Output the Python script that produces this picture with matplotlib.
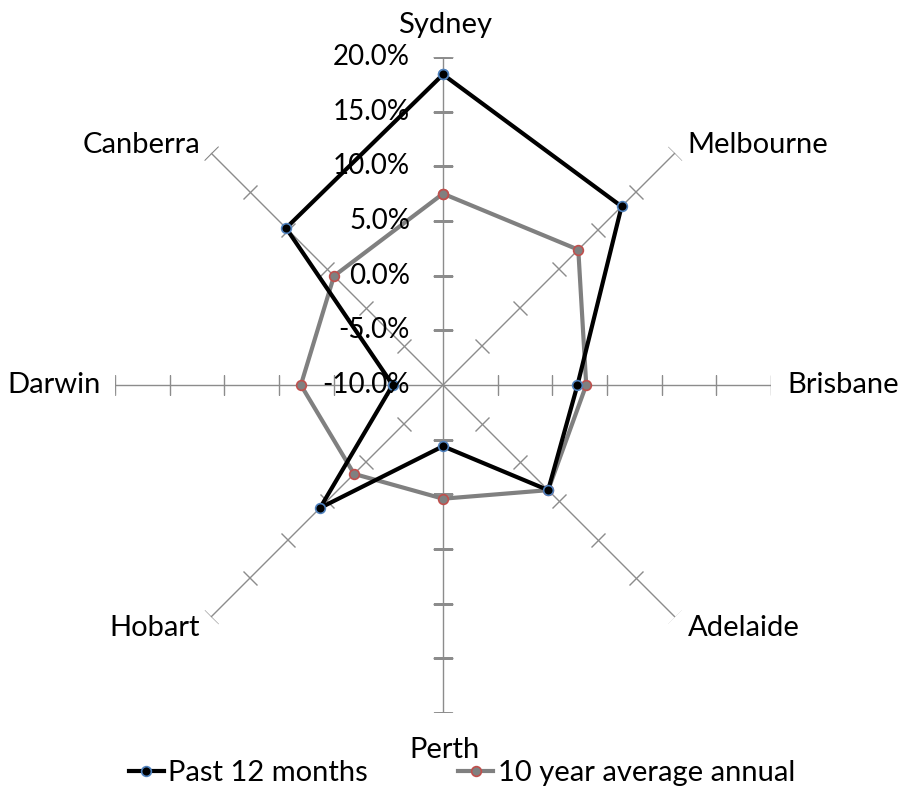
import numpy as np
import matplotlib
matplotlib.use("Agg")
import matplotlib.pyplot as plt
from matplotlib.markers import MarkerStyle
from matplotlib.transforms import Affine2D

plt.rcParams["font.family"] = ["Lato", "DejaVu Sans"]

cities = ["Sydney", "Melbourne", "Brisbane", "Adelaide", "Perth", "Hobart", "Darwin", "Canberra"]
past_12_months = [18.4, 13.1, 2.3, 3.6, -4.4, 5.9, -5.4, 10.3]
ten_year_avg = [7.5, 7.5, 3.1, 3.6, 0.4, 1.5, 3.0, 4.1]
r_ticks = [-10, -5, 0, 5, 10, 15, 20]
r_tick_labels = ["-10.0%", "-5.0%", "0.0%", "5.0%", "10.0%", "15.0%", "20.0%"]

W, H = 898, 788
fig = plt.figure(figsize=(W / 100, H / 100), dpi=100)
cx, cy, R = 443, 385, 328
ax = fig.add_axes([(cx - R) / W, (H - cy - R) / H, 2 * R / W, 2 * R / H], projection="polar")
ax.set_theta_zero_location("N")
ax.set_theta_direction(-1)
ax.set_ylim(-10, 20)
ax.grid(False)
ax.spines["polar"].set_visible(False)
ax.set_xticks([])
ax.set_yticks([])

n = len(cities)
angles = np.arange(n) * 2 * np.pi / n
axis_col = "#8c8c8c"

# spokes with cross tick marks
for a in angles:
    ax.plot([a, a], [-10, 20], color=axis_col, lw=1.0, zorder=1)
    m = MarkerStyle("_", transform=Affine2D().rotate_deg(-np.degrees(a)))
    ax.plot([a] * (len(r_ticks) - 1), r_ticks[1:], ls="none", marker=m,
            ms=14, mew=1.0, mec=axis_col, zorder=1)

ang_closed = np.append(angles, angles[0])
ax.plot(ang_closed, past_12_months + past_12_months[:1], color="black", lw=3,
        marker="o", ms=7, mfc="black", mec="#4f81bd", mew=1.2, zorder=3,
        label="Past 12 months")
ax.plot(ang_closed, ten_year_avg + ten_year_avg[:1], color="#808080", lw=3,
        marker="o", ms=7, mfc="#808080", mec="#c0504d", mew=1.2, zorder=2,
        label="10 year average annual")

# radial value labels along the Sydney spoke
for v, lab in zip(r_ticks, r_tick_labels):
    ax.annotate(lab, xy=(0, v), xytext=(-33, 0), textcoords="offset pixels",
                ha="right", va="center", fontsize=20, annotation_clip=False, zorder=4)

# category labels
label_pos = [
    ((2, 32), "center", "center"),
    ((12, 8), "left", "center"),
    ((16, 0), "left", "center"),
    ((13, -11), "left", "center"),
    ((1, -37), "center", "center"),
    ((-11, -11), "right", "center"),
    ((-14, 0), "right", "center"),
    ((-11, 8), "right", "center"),
]
for a, name, (off, ha, va) in zip(angles, cities, label_pos):
    ax.annotate(name, xy=(a, 20), xytext=off, textcoords="offset pixels",
                ha=ha, va=va, fontsize=21, annotation_clip=False)

fig.legend(loc="center", bbox_to_anchor=(462 / W, 1 - 773 / H), ncol=2,
           frameon=False, fontsize=21, handlelength=1.2, handletextpad=0.15,
           columnspacing=3.1, borderpad=0, borderaxespad=0)

fig.savefig("out.png", dpi=100)
